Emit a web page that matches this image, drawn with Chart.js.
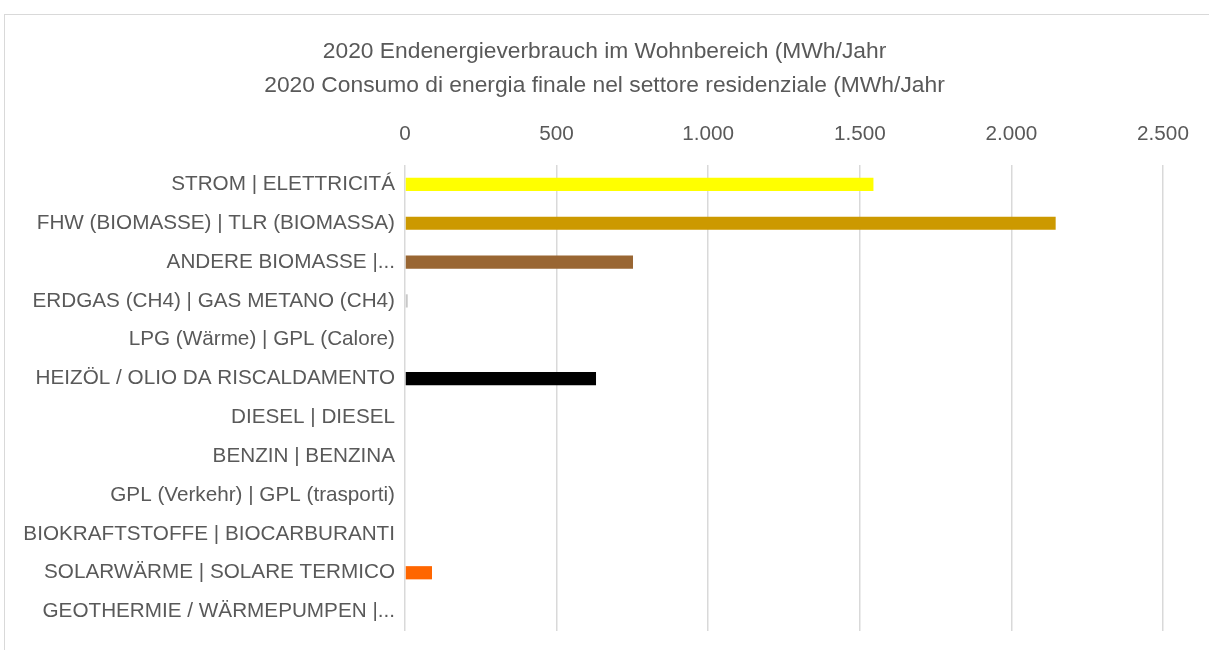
<!DOCTYPE html>
<html>
<head>
<meta charset="utf-8">
<script src="https://cdn.jsdelivr.net/npm/chart.js@4"></script>
<style>
  html, body { margin: 0; padding: 0; background: #fff; overflow: hidden; }
  #frame { position: absolute; left: 4px; top: 14px; width: 1300px; height: 700px; border: 1px solid #d9d9d9; }
  #wrap { position: absolute; left: 0; top: 0; width: 1209px; height: 650px; }
</style>
</head>
<body>
<div id="frame"></div>
<div id="wrap"><canvas id="myChart"></canvas></div>
<script>
const categories = [
    'STROM | ELETTRICITÁ',
    'FHW (BIOMASSE) | TLR (BIOMASSA)',
    'ANDERE BIOMASSE |...',
    'ERDGAS (CH4) | GAS METANO (CH4)',
    'LPG (Wärme) | GPL (Calore)',
    'HEIZÖL / OLIO DA RISCALDAMENTO',
    'DIESEL | DIESEL',
    'BENZIN | BENZINA',
    'GPL (Verkehr) | GPL (trasporti)',
    'BIOKRAFTSTOFFE | BIOCARBURANTI',
    'SOLARWÄRME | SOLARE TERMICO',
    'GEOTHERMIE / WÄRMEPUMPEN |...'
];
const values = [1545, 2146, 752, 9, 0, 630, 0, 0, 0, 0, 89, 0];
const barColors = [
    '#ffff00', '#cc9900', '#996633', '#c8c8c8', '#a5a5a5', '#000000',
    '#7f7f7f', '#5b9bd5', '#70ad47', '#264478', '#ff6600', '#9e480e'
];
const titleLines = [
    '2020 Endenergieverbrauch im Wohnbereich (MWh/Jahr',
    '2020 Consumo di energia finale nel settore residenziale (MWh/Jahr'
];

const fontFamily = '"Liberation Sans", Arial, sans-serif';
const textColor = '#595959';

function fmt(v) {
    return String(v).replace(/\B(?=(\d{3})+(?!\d))/g, '.');
}

// title is centred over the whole canvas, not just the padded box
const centerTitle = {
    id: 'centerTitle',
    afterLayout(chart) {
        const t = chart.titleBlock;
        if (t) {
            t.left = 0;
            t.right = chart.width;
            t.width = chart.width;
        }
    }
};

const ctx = document.getElementById('myChart');

new Chart(ctx, {
    type: 'bar',
    data: {
        labels: categories,
        datasets: [{
            label: '2020',
            data: values,
            backgroundColor: barColors,
            borderWidth: 0,
            categoryPercentage: 1,
            barPercentage: 0.34
        }]
    },
    options: {
        indexAxis: 'y',
        responsive: true,
        maintainAspectRatio: false,
        animation: false,
        layout: {
            padding: { left: 0, right: 46, top: 0, bottom: 19 }
        },
        scales: {
            x: {
                position: 'top',
                min: 0,
                max: 2500,
                border: { display: false },
                grid: { color: '#d9d9d9', lineWidth: 1.5, drawTicks: false },
                ticks: {
                    stepSize: 500,
                    padding: 18.6,
                    color: textColor,
                    font: { family: fontFamily, size: 20.7 },
                    callback: (v) => fmt(v)
                }
            },
            y: {
                border: { display: false },
                grid: { display: false, drawTicks: false },
                ticks: {
                    autoSkip: false,
                    padding: 10,
                    color: textColor,
                    font: { family: fontFamily, size: 20.7 }
                },
                afterFit: (scale) => {
                    scale.width = 405;
                    scale.paddingTop = 0;
                    scale.paddingBottom = 0;
                }
            }
        },
        plugins: {
            legend: { display: false },
            tooltip: { enabled: false },
            title: {
                display: true,
                text: titleLines,
                color: textColor,
                font: { family: fontFamily, size: 22.8, weight: 'normal', lineHeight: 1.49 },
                padding: { top: 35, bottom: 0 }
            }
        }
    },
    plugins: [centerTitle]
});
</script>
</body>
</html>
